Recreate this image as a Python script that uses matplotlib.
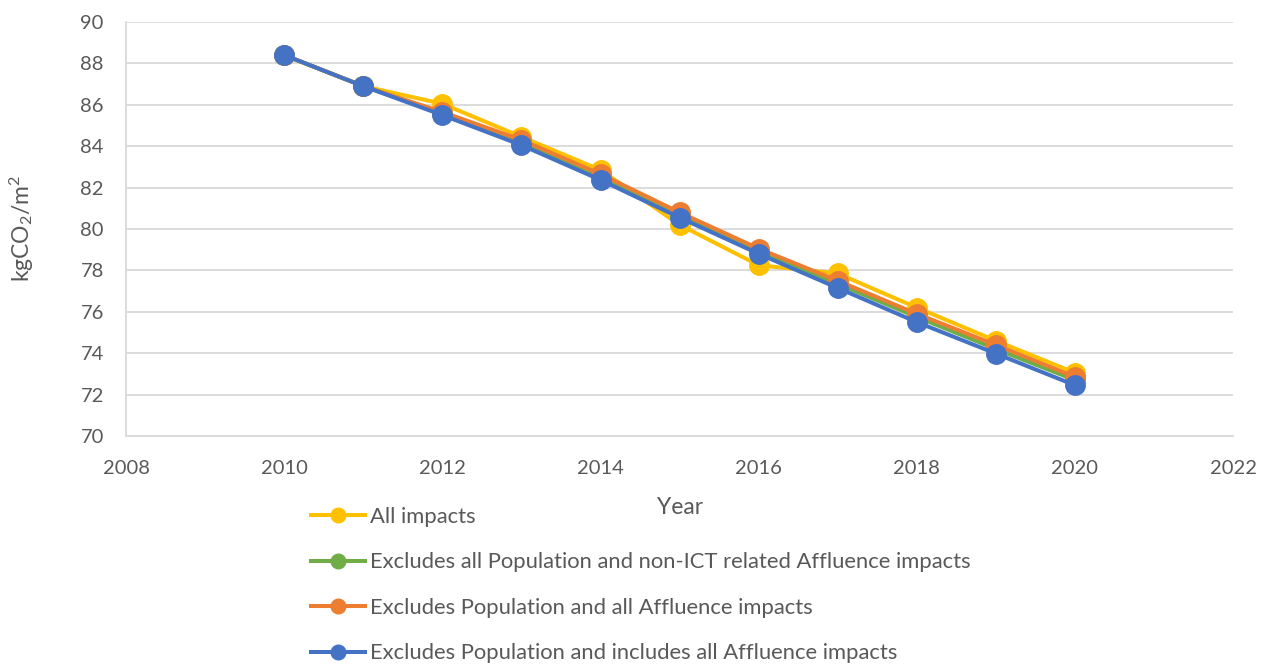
import matplotlib.pyplot as plt

years = [2010, 2011, 2012, 2013, 2014, 2015, 2016, 2017, 2018, 2019, 2020]

all_impacts = [88.4, 86.9, 86.05, 84.45, 82.85, 80.2, 78.25, 77.85, 76.2, 74.6, 73.05]
excl_non_ict = [88.4, 86.9, 85.6, 84.2, 82.55, 80.7, 78.95, 77.35, 75.75, 74.2, 72.7]
excl_all_affl = [88.4, 86.9, 85.65, 84.3, 82.65, 80.8, 79.05, 77.5, 75.9, 74.4, 72.85]
incl_all_affl = [88.4, 86.9, 85.5, 84.05, 82.37, 80.55, 78.8, 77.15, 75.5, 73.98, 72.45]

labels = ['All impacts',
          'Excludes all Population and non-ICT related Affluence impacts',
          'Excludes Population and all Affluence impacts',
          'Excludes Population and includes all Affluence impacts']
colors = ['#FFC000', '#70AD47', '#ED7D31', '#4472C4']

plt.rcParams['font.family'] = ['Lato', 'DejaVu Sans']
plt.rcParams['mathtext.fontset'] = 'custom'
plt.rcParams['mathtext.rm'] = 'Lato'
plt.rcParams['mathtext.it'] = 'Lato'
txt = '#595959'

fig = plt.figure(figsize=(12.73, 6.64), dpi=100)
ax = fig.add_axes([0.099, 0.3434, 0.8697, 0.6235])

for vals, lab, c in zip([all_impacts, excl_non_ict, excl_all_affl, incl_all_affl], labels, colors):
    ax.plot(years, vals, color=c, lw=2.9, marker='o', markersize=14, label=lab)

ax.set_xlim(2008, 2022)
ax.set_ylim(70, 90)
ax.set_xticks(range(2008, 2023, 2))
ax.set_yticks(range(70, 91, 2))
ax.grid(axis='y', color='#D9D9D9', lw=1.3)
ax.set_axisbelow(True)
for s in ['top', 'right']:
    ax.spines[s].set_visible(False)
for s in ['left', 'bottom']:
    ax.spines[s].set_color('#D9D9D9')
    ax.spines[s].set_linewidth(1.3)
ax.tick_params(length=0, labelsize=14.5, labelcolor=txt)
ax.tick_params(axis='x', pad=17)
ax.tick_params(axis='y', pad=16)
ax.set_xlabel('Year', fontsize=16.5, color=txt)
ax.set_ylabel('kgCO$_\\mathrm{2}$/m$^\\mathrm{2}$', fontsize=16.5, color=txt)
ax.xaxis.set_label_coords(0.5, -0.147)
ax.yaxis.set_label_coords(-0.081, 0.5)

fig.legend(loc='upper left', bbox_to_anchor=(0.2445, 0.2364), frameon=False,
           fontsize=15.8, labelcolor=txt, handlelength=2.43, handletextpad=0.27,
           labelspacing=1.16, borderaxespad=0, borderpad=0, markerscale=0.75)

fig.savefig('out.png', dpi=100)
